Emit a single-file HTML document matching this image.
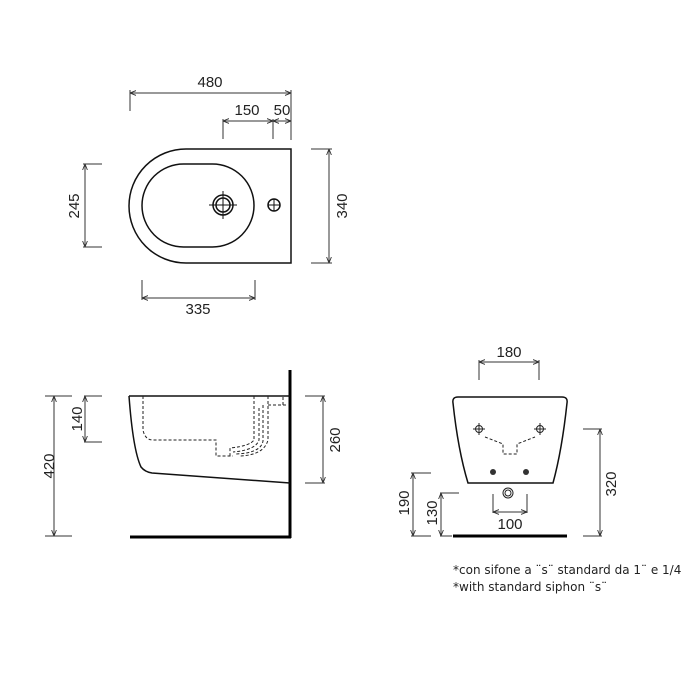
<!DOCTYPE html>
<html><head><meta charset="utf-8"><style>
html,body{margin:0;padding:0;background:#fff}
svg{display:block}
text{font-family:"Liberation Sans Narrow","Liberation Sans",sans-serif;font-size:15px;fill:#222}
.n{font-family:"DejaVu Sans","Liberation Sans",sans-serif;font-size:12px;fill:#222}
</style></head><body>
<svg width="700" height="700" viewBox="0 0 700 700" xmlns="http://www.w3.org/2000/svg">
<defs>
<marker id="a" viewBox="0 0 10 10" refX="10" refY="5" markerWidth="6" markerHeight="6" orient="auto-start-reverse"><path d="M0,1 L10,5 L0,9" fill="none" stroke="#333" stroke-width="1.5"/></marker>
</defs>
<g stroke="#333" stroke-width="1" fill="none">
<!-- top view dims -->
<line x1="130" y1="90" x2="130" y2="111"/><line x1="291" y1="90" x2="291" y2="140"/>
<line x1="130" y1="93" x2="291" y2="93" marker-start="url(#a)" marker-end="url(#a)"/>
<line x1="223" y1="119" x2="223" y2="139"/><line x1="273" y1="119" x2="273" y2="139"/>
<line x1="223" y1="121" x2="273" y2="121" marker-start="url(#a)" marker-end="url(#a)"/>
<line x1="273" y1="121" x2="291" y2="121" marker-start="url(#a)" marker-end="url(#a)"/>
<line x1="311" y1="149" x2="332" y2="149"/><line x1="311" y1="263" x2="332" y2="263"/>
<line x1="329" y1="149" x2="329" y2="263" marker-start="url(#a)" marker-end="url(#a)"/>
<line x1="83" y1="164" x2="102" y2="164"/><line x1="83" y1="247" x2="102" y2="247"/>
<line x1="85" y1="164" x2="85" y2="247" marker-start="url(#a)" marker-end="url(#a)"/>
<line x1="142" y1="280" x2="142" y2="300"/><line x1="255" y1="280" x2="255" y2="300"/>
<line x1="142" y1="298" x2="255" y2="298" marker-start="url(#a)" marker-end="url(#a)"/>
</g>
<g stroke="#111" stroke-width="1.5" fill="none">
<path d="M291,149 H186 A57,57 0 0 0 186,263 H291 Z"/>
<rect x="142" y="164" width="112" height="83" rx="41.5"/>
<circle cx="223" cy="205" r="10"/><circle cx="223" cy="205" r="7"/>
<line x1="209" y1="205" x2="237" y2="205" stroke-width="1"/><line x1="223" y1="191" x2="223" y2="219" stroke-width="1"/>
<circle cx="274" cy="205" r="6"/>
<line x1="268" y1="205" x2="280" y2="205" stroke-width="1"/><line x1="274" y1="199" x2="274" y2="211" stroke-width="1"/>
</g>
<text x="210" y="87" text-anchor="middle">480</text>
<text x="247" y="115" text-anchor="middle">150</text>
<text x="282" y="115" text-anchor="middle">50</text>
<text x="198" y="314" text-anchor="middle">335</text>
<text transform="translate(347,206) rotate(-90)" text-anchor="middle">340</text>
<text transform="translate(79,206) rotate(-90)" text-anchor="middle">245</text>

<!-- side view -->
<g stroke="#333" stroke-width="1" fill="none">
<line x1="45" y1="396" x2="72" y2="396"/><line x1="45" y1="536" x2="72" y2="536"/>
<line x1="54" y1="396" x2="54" y2="536" marker-start="url(#a)" marker-end="url(#a)"/>
<line x1="84" y1="396" x2="102" y2="396"/><line x1="84" y1="442" x2="102" y2="442"/>
<line x1="85" y1="396" x2="85" y2="442" marker-start="url(#a)" marker-end="url(#a)"/>
<line x1="305" y1="396" x2="325" y2="396"/><line x1="305" y1="483" x2="325" y2="483"/>
<line x1="323" y1="396" x2="323" y2="483" marker-start="url(#a)" marker-end="url(#a)"/>
</g>
<text transform="translate(54,466) rotate(-90)" text-anchor="middle">420</text>
<text transform="translate(82,419) rotate(-90)" text-anchor="middle">140</text>
<text transform="translate(340,440) rotate(-90)" text-anchor="middle">260</text>
<line x1="290" y1="370" x2="290" y2="538" stroke="#000" stroke-width="3"/>
<line x1="130" y1="537" x2="291" y2="537" stroke="#000" stroke-width="3"/>
<g stroke="#111" stroke-width="1.5" fill="none">
<line x1="129" y1="396" x2="290" y2="396"/>
<path d="M129,396 Q133,450 141,467 Q145,472 152,473 L290,483"/>
</g>
<g stroke="#222" stroke-width="1" fill="none" stroke-dasharray="3,2">
<path d="M143,396 V430 Q145,440 153,440 H216 V456 H233"/>
<path d="M254,396 V440 Q250,446 230,448 V456"/>
<path d="M268,396 V440 Q264,455 240,456"/>
<path d="M259,408 V440 Q256,450 233,452"/>
<path d="M263,405 V441 Q261,453 236,454"/>
<path d="M268,405 H283 V396"/>
<path d="M268,405 H287"/>
</g>

<!-- front view -->
<g stroke="#333" stroke-width="1" fill="none">
<line x1="479" y1="360" x2="479" y2="380"/><line x1="539" y1="360" x2="539" y2="380"/>
<line x1="479" y1="362" x2="539" y2="362" marker-start="url(#a)" marker-end="url(#a)"/>
<line x1="493" y1="494" x2="493" y2="513"/><line x1="527" y1="494" x2="527" y2="513"/>
<line x1="493" y1="512" x2="527" y2="512" marker-start="url(#a)" marker-end="url(#a)"/>
<line x1="411" y1="473" x2="431" y2="473"/><line x1="411" y1="536" x2="431" y2="536"/>
<line x1="413" y1="473" x2="413" y2="536" marker-start="url(#a)" marker-end="url(#a)"/>
<line x1="440" y1="493" x2="459" y2="493"/><line x1="440" y1="536" x2="452" y2="536"/>
<line x1="441" y1="493" x2="441" y2="536" marker-start="url(#a)" marker-end="url(#a)"/>
<line x1="583" y1="429" x2="602" y2="429"/><line x1="583" y1="536" x2="602" y2="536"/>
<line x1="600" y1="429" x2="600" y2="536" marker-start="url(#a)" marker-end="url(#a)"/>
</g>
<text x="509" y="357" text-anchor="middle">180</text>
<text x="510" y="529" text-anchor="middle">100</text>
<text transform="translate(409,503) rotate(-90)" text-anchor="middle">190</text>
<text transform="translate(437,513) rotate(-90)" text-anchor="middle">130</text>
<text transform="translate(616,484) rotate(-90)" text-anchor="middle">320</text>
<path d="M458,397 H562 Q568,397 567,403 Q562,450 553,483 H468 Q458,450 453,403 Q452,397 458,397 Z" fill="none" stroke="#111" stroke-width="1.5"/>
<g stroke="#222" stroke-width="1" fill="none">
<circle cx="479" cy="429" r="3.5"/><line x1="473" y1="429" x2="485" y2="429"/><line x1="479" y1="423" x2="479" y2="435"/>
<circle cx="540" cy="429" r="3.5"/><line x1="534" y1="429" x2="546" y2="429"/><line x1="540" y1="423" x2="540" y2="435"/>
<path d="M485,437 L503,444 V454 H517 V444 L535,437" stroke-dasharray="3,2"/>
<circle cx="508" cy="493" r="5"/><circle cx="508" cy="493" r="3"/>
</g>
<circle cx="493" cy="472" r="3" fill="#333"/><circle cx="526" cy="472" r="3" fill="#333"/>
<line x1="453" y1="536" x2="567" y2="536" stroke="#000" stroke-width="3"/>
<text class="n" x="453" y="574">*con sifone a ¨s¨ standard da 1¨ e 1/4</text>
<text class="n" x="453" y="591">*with standard siphon ¨s¨</text>
</svg>
</body></html>
